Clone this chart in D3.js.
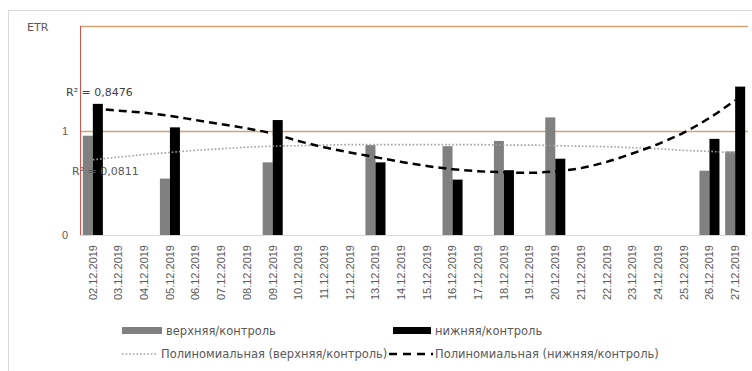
<!DOCTYPE html>
<html>
<head>
<meta charset="utf-8">
<script src="https://cdn.jsdelivr.net/npm/d3@7"></script>
<style>
  body { margin: 0; background: #fff; }
  svg { font-family: "DejaVu Sans", sans-serif; }
</style>
</head>
<body>
<div class="layout"></div>
<script>
var dates = ["02.12.2019", "03.12.2019", "04.12.2019", "05.12.2019", "06.12.2019", "07.12.2019",
             "08.12.2019", "09.12.2019", "10.12.2019", "11.12.2019", "12.12.2019", "13.12.2019",
             "14.12.2019", "15.12.2019", "16.12.2019", "17.12.2019", "18.12.2019", "19.12.2019",
             "20.12.2019", "21.12.2019", "22.12.2019", "23.12.2019", "24.12.2019", "25.12.2019",
             "26.12.2019", "27.12.2019"];

// верхняя/контроль
var upper = [0.95, null, null, 0.54, null, null, null, 0.695, null, null, null, 0.86, null, null,
             0.85, null, 0.90, null, 1.125, null, null, null, null, null, 0.615, 0.80];

// нижняя/контроль
var lower = [1.255, null, null, 1.03, null, null, null, 1.10, null, null, null, 0.695, null, null,
             0.53, null, 0.62, null, 0.73, null, null, null, null, null, 0.92, 1.42];

// polynomial trend lines at each date
var trendUpper = [0.72, 0.745, 0.77, 0.79, 0.81, 0.825, 0.84, 0.85, 0.855, 0.86, 0.865, 0.865, 0.865,
                  0.865, 0.865, 0.865, 0.86, 0.86, 0.855, 0.85, 0.845, 0.835, 0.825, 0.81, 0.80, 0.785];
var trendLower = [1.21, 1.19, 1.17, 1.14, 1.10, 1.06, 1.02, 0.97, 0.90, 0.84, 0.79, 0.745, 0.70,
                  0.66, 0.63, 0.61, 0.60, 0.595, 0.61, 0.64, 0.70, 0.78, 0.87, 0.98, 1.12, 1.29];

var r2Upper = "R² = 0,0811",
    r2Lower = "R² = 0,8476";

var yTicks = [0, 1, 2];

var W = 752, H = 371;
var plotLeft = 80, plotRight = 748, plotTop = 26, plotBottom = 235;

var svg = d3.select(".layout").append("svg")
        .attr("width", W)
        .attr("height", H);

// outer chart border
svg.append("rect")
        .attr("x", 8.5).attr("y", 10.5)
        .attr("width", W + 20).attr("height", H + 20)
        .attr("fill", "#fff")
        .attr("stroke", "#d9d9d9");

var x0 = d3.scaleBand()
        .domain(dates)
        .range([plotLeft, plotRight])
        .paddingInner(0.22)
        .paddingOuter(0.11);

var x1 = d3.scaleBand()
        .domain(["upper", "lower"])
        .range([0, x0.bandwidth()]);

var y = d3.scaleLinear()
        .domain([0, 2])
        .range([plotBottom, plotTop]);

// gridlines
svg.append("g").selectAll("line")
        .data(yTicks.slice(1))
        .enter().append("line")
        .attr("x1", plotLeft).attr("x2", plotRight)
        .attr("y1", function(d) { return Math.round(y(d)) + 0.5; })
        .attr("y2", function(d) { return Math.round(y(d)) + 0.5; })
        .attr("stroke", "#cfa472")
        .attr("stroke-width", 1.5);

// y axis labels (0 and 1 only)
var yAxis = d3.axisLeft(y)
        .tickValues(yTicks.slice(0, 2))
        .tickSize(0)
        .tickPadding(12)
        .tickFormat(d3.format("d"));

svg.append("g")
        .attr("class", "y axis")
        .attr("transform", "translate(" + plotLeft + ",0)")
        .call(yAxis)
        .call(function(g) { g.select(".domain").remove(); })
        .selectAll("text")
        .attr("fill", "#595959")
        .style("font-size", "11px");

// x axis
var xAxis = d3.axisBottom(x0).tickSize(0);

var gx = svg.append("g")
        .attr("class", "x axis")
        .attr("transform", "translate(0," + plotBottom + ")")
        .call(xAxis);

gx.select(".domain")
        .attr("stroke", "#d9d9d9")
        .attr("d", "M" + plotLeft + ",0.5H" + plotRight);

gx.selectAll("text")
        .attr("transform", "rotate(-90)")
        .attr("x", -10)
        .attr("y", 0)
        .attr("dy", "0.35em")
        .style("text-anchor", "end")
        .style("font-size", "11px")
        .attr("fill", "#595959");

// bars
var groups = svg.append("g").selectAll("g")
        .data(dates)
        .enter().append("g")
        .attr("transform", function(d) { return "translate(" + x0(d) + ",0)"; });

groups.selectAll("rect")
        .data(function(d, i) {
            return [{key: "upper", v: upper[i]}, {key: "lower", v: lower[i]}]
                .filter(function(e) { return e.v != null; });
        })
        .enter().append("rect")
        .attr("x", function(d) { return x1(d.key); })
        .attr("width", x1.bandwidth())
        .attr("y", function(d) { return y(d.v); })
        .attr("height", function(d) { return plotBottom - y(d.v); })
        .attr("fill", function(d) { return d.key === "upper" ? "#808080" : "#000"; });

// left axis line
svg.append("line")
        .attr("x1", plotLeft + 0.5).attr("x2", plotLeft + 0.5)
        .attr("y1", plotTop).attr("y2", plotBottom)
        .attr("stroke", "#d9534f")
        .attr("stroke-width", 1);

// trend lines
var line = d3.line()
        .x(function(d, i) { return x0(dates[i]) + x0.bandwidth() / 2; })
        .y(function(d) { return y(d); })
        .curve(d3.curveMonotoneX);

svg.append("path")
        .datum(trendUpper)
        .attr("d", line)
        .attr("fill", "none")
        .attr("stroke", "#a0a0a0")
        .attr("stroke-width", 1.6)
        .attr("stroke-dasharray", "1.6,2");

svg.append("path")
        .datum(trendLower)
        .attr("d", line)
        .attr("fill", "none")
        .attr("stroke", "#000")
        .attr("stroke-width", 2.5)
        .attr("stroke-dasharray", "8,5");

// R² labels
svg.append("text")
        .attr("x", 66).attr("y", 96)
        .attr("fill", "#404040")
        .style("font-size", "11px")
        .text(r2Lower);

svg.append("text")
        .attr("x", 72).attr("y", 175)
        .attr("fill", "#595959")
        .style("font-size", "11px")
        .text(r2Upper);

svg.append("text")
        .attr("x", 27).attr("y", 31)
        .attr("fill", "#595959")
        .style("font-size", "11px")
        .text("ETR");

// legend
var legend = svg.append("g").style("font-size", "11.5px");

legend.append("rect")
        .attr("x", 122).attr("y", 327).attr("width", 40).attr("height", 7)
        .attr("fill", "#808080");
legend.append("text")
        .attr("x", 166).attr("y", 335).attr("fill", "#595959")
        .text("верхняя/контроль");

legend.append("rect")
        .attr("x", 393).attr("y", 327).attr("width", 38).attr("height", 7)
        .attr("fill", "#000");
legend.append("text")
        .attr("x", 435).attr("y", 335).attr("fill", "#595959")
        .text("нижняя/контроль");

legend.append("line")
        .attr("x1", 122).attr("x2", 158).attr("y1", 354).attr("y2", 354)
        .attr("stroke", "#a0a0a0").attr("stroke-width", 1.6)
        .attr("stroke-dasharray", "1.6,2");
legend.append("text")
        .attr("x", 161).attr("y", 358).attr("fill", "#595959")
        .text("Полиномиальная (верхняя/контроль)");

legend.append("line")
        .attr("x1", 389).attr("x2", 433).attr("y1", 354).attr("y2", 354)
        .attr("stroke", "#000").attr("stroke-width", 2.5)
        .attr("stroke-dasharray", "8,6");
legend.append("text")
        .attr("x", 435).attr("y", 358).attr("fill", "#595959")
        .text("Полиномиальная (нижняя/контроль)");
</script>
</body>
</html>
